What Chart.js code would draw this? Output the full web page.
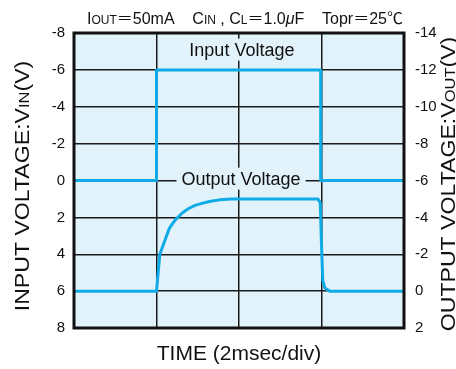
<!DOCTYPE html>
<html><head><meta charset="utf-8">
<script src="https://cdn.jsdelivr.net/npm/chart.js@4/dist/chart.umd.min.js"></script>
<style>html,body{margin:0;padding:0;background:#fff;}#wrap{width:456px;height:369px;position:relative;}</style>
</head><body><div id="wrap"><canvas id="c" width="456" height="369"></canvas></div>
<script>
// ---- data (time in msec, 2 msec per division) ----
const inputTime = [0, 2, 2, 5.98, 5.98, 8];
const inputVoltage = [0, 0, -6, -6, 0, 0];
const outputTime = [0, 2.0, 2.08, 2.31, 2.45, 2.63, 2.78, 2.92, 3.1, 3.28, 3.53, 3.8, 5.91, 5.97, 6.0, 6.03, 6.08, 6.2, 8];
const outputVoltage = [0, 0, -2.0, -3.4, -3.85, -4.25, -4.48, -4.64, -4.76, -4.86, -4.95, -5, -5, -4.8, -2.5, -0.6, -0.17, 0, 0];
const leftTicks = [-8, -6, -4, -2, 0, 2, 4, 6, 8];
const rightTicks = [-14, -12, -10, -8, -6, -4, -2, 0, 2];
const timeTicks = [0, 2, 4, 6, 8];
const seriesNames = ["Input Voltage", "Output Voltage"];

const FONT = "'Liberation Sans', Arial, 'Noto Sans CJK JP', sans-serif";
const PLOT_BG = '#e1f2fa';
const LINE = '#0eabe6';
const GRID = '#1a1a1a';

function fontStr(s){ return (s.style||'') + ' ' + s.size + 'px ' + FONT; }
function drawRich(ctx, segs, cx, baseY, rot, stretch){
  ctx.save();
  ctx.translate(cx, baseY);
  if (rot) ctx.rotate(rot);
  if (stretch) ctx.scale(stretch, 1);
  ctx.textAlign = 'left'; ctx.textBaseline = 'alphabetic'; ctx.fillStyle = '#111';
  let total = 0;
  const ws = segs.map(s => { ctx.font = fontStr(s); const w = ctx.measureText(s.t).width; total += w; return w; });
  let x = -total/2;
  segs.forEach((s,i) => { ctx.font = fontStr(s); ctx.fillText(s.t, x, 0); x += ws[i]; });
  ctx.restore();
}

const bgPlugin = {
  id: 'plotbg',
  beforeDraw(chart){
    const {ctx, chartArea:a} = chart;
    ctx.save(); ctx.fillStyle = PLOT_BG;
    ctx.fillRect(a.left, a.top, a.right-a.left, a.bottom-a.top);
    ctx.restore();
  }
};

const labelPlugin = {
  id: 'serieslabels',
  afterDatasetsDraw(chart){
    const {ctx} = chart;
    const x = chart.scales.x, y = chart.scales.y;
    const items = [
      {text: seriesNames[0], t: 4.07, v: -7.1},
      {text: seriesNames[1], t: 4.05, v: -0.1}
    ];
    ctx.save();
    ctx.font = '18px ' + FONT;
    ctx.textAlign = 'center'; ctx.textBaseline = 'middle';
    items.forEach(it => {
      const px = x.getPixelForValue(it.t), py = y.getPixelForValue(it.v);
      const w = ctx.measureText(it.text).width + 10;
      ctx.fillStyle = PLOT_BG;
      ctx.fillRect(px - w/2, py - 11, w, 22);
      ctx.fillStyle = '#111';
      ctx.fillText(it.text, px, py + 1);
    });
    ctx.restore();
  },
  afterDraw(chart){
    const {ctx, chartArea:a} = chart;
    ctx.save();
    ctx.strokeStyle = '#111'; ctx.lineWidth = 3;
    ctx.strokeRect(a.left, a.top, a.right-a.left, a.bottom-a.top);
    ctx.restore();
    // top condition note
    drawRich(ctx, [
      {t:'I', size:16}, {t:'OUT', size:12}, {t:'＝50mA    C', size:16}, {t:'IN', size:12},
      {t:' , C', size:16}, {t:'L', size:12}, {t:'＝1.0', size:16}, {t:'μ', size:16, style:'italic'},
      {t:'F    Topr＝25℃', size:16}
    ], 245, 24, 0);
    // left axis title
    drawRich(ctx, [
      {t:'INPUT VOLTAGE:V', size:21}, {t:'IN', size:15}, {t:'(V)', size:21}
    ], 29, 186, -Math.PI/2, 1.1);
    // right axis title
    drawRich(ctx, [
      {t:'OUTPUT VOLTAGE:V', size:21}, {t:'OUT', size:15}, {t:'(V)', size:21}
    ], 455, 184, -Math.PI/2, 1.1);
  }
};

new Chart(document.getElementById('c'), {
  type: 'line',
  data: {
    datasets: [
      {label: seriesNames[0], data: inputTime.map((t,i)=>({x:t, y:inputVoltage[i]})), yAxisID:'y',
       borderColor: LINE, borderWidth: 3, pointRadius: 0, tension: 0, fill: false, borderJoinStyle:'round'},
      {label: seriesNames[1], data: outputTime.map((t,i)=>({x:t, y:outputVoltage[i]})), yAxisID:'y2',
       borderColor: LINE, borderWidth: 3, pointRadius: 0, tension: 0, fill: false, borderJoinStyle:'round'}
    ]
  },
  options: {
    responsive: false, animation: false, devicePixelRatio: 1,
    layout: {padding: {top: 33, left: 0, right: 0, bottom: 0}},
    plugins: {legend: {display:false}, tooltip: {enabled:false}, title:{display:false}},
    scales: {
      x: {
        type: 'linear', min: 0, max: 8, position: 'bottom',
        afterBuildTicks: s => { s.ticks = timeTicks.map(v => ({value: v})); },
        ticks: {display: false},
        grid: {color: GRID, lineWidth: 1.5, drawTicks: false},
        border: {display: false},
        title: {display: true, text: 'TIME (2msec/div)', color: '#111', font: {family: FONT, size: 21}, padding: {top: 0, bottom: 2}},
        afterFit: s => { s.height = 41; }
      },
      y: {
        type: 'linear', position: 'left', reverse: true, min: -8, max: 8,
        afterBuildTicks: s => { s.ticks = leftTicks.map(v => ({value: v})); },
        ticks: {color: '#111', font: {family: FONT, size: 15}, padding: 9},
        grid: {color: GRID, lineWidth: 1.5, drawTicks: false},
        border: {display: false},
        afterFit: s => { s.width = 74; }
      },
      y2: {
        type: 'linear', position: 'right', reverse: true, min: -14, max: 2,
        afterBuildTicks: s => { s.ticks = rightTicks.map(v => ({value: v})); },
        ticks: {color: '#111', font: {family: FONT, size: 15}, padding: 11},
        grid: {display: false, drawTicks: false},
        border: {display: false},
        afterFit: s => { s.width = 52; }
      }
    }
  },
  plugins: [bgPlugin, labelPlugin]
});
</script></body></html>
